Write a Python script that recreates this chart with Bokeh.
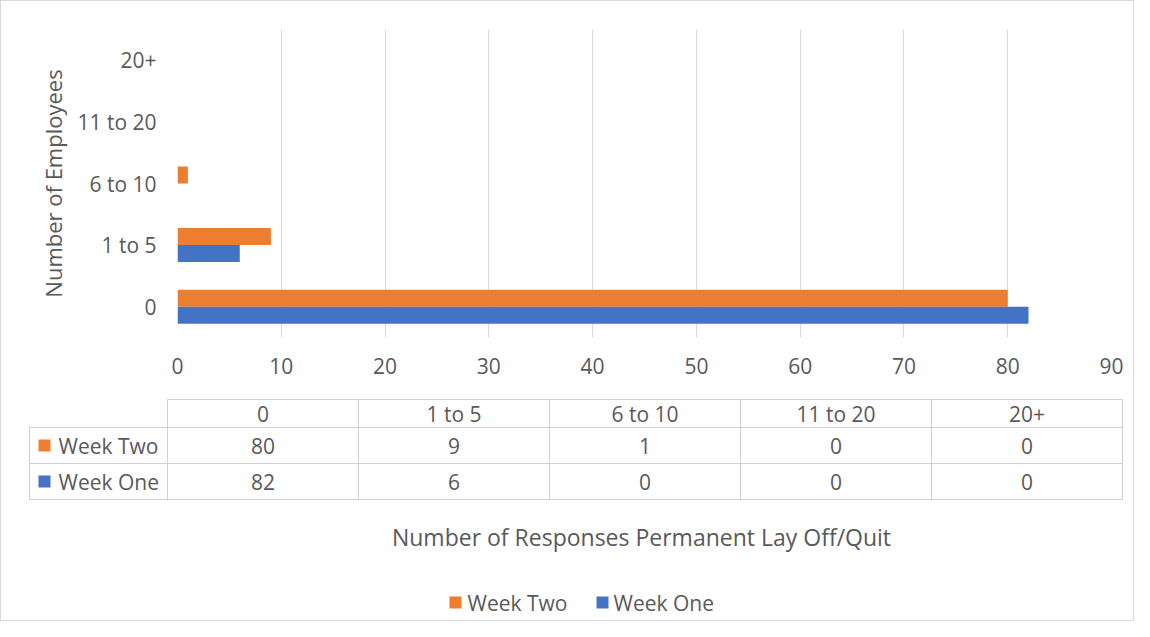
from bokeh.plotting import figure
from bokeh.models import FactorRange, Range1d, FixedTicker, ColumnDataSource
from bokeh.transform import dodge
from bokeh.layouts import column
from bokeh.embed import file_html
from bokeh.resources import INLINE
from bokeh.core.properties import value

# ---- data ----
categories = ["0", "1 to 5", "6 to 10", "11 to 20", "20+"]
week_two = [80, 9, 1, 0, 0]
week_one = [82, 6, 0, 0, 0]
series_names = ["Week Two", "Week One"]
series_colors = ["#ED7D31", "#4472C4"]
x_ticks = [0, 10, 20, 30, 40, 50, 60, 70, 80, 90]
x_title = "Number of Responses Permanent Lay Off/Quit"
y_title = "Number of Employees"

FONT = "Open Sans"
FS = "21px"
TXT = "#595959"
GRID = "#D9D9D9"

W = 1132
H1 = 386
H2 = 233

src = ColumnDataSource(dict(cat=categories, two=week_two, one=week_one))

p1 = figure(width=W, height=H1, y_range=FactorRange(*categories), x_range=Range1d(0, 90),
            output_backend="svg", toolbar_location=None,
            min_border_left=176, min_border_right=22, min_border_top=28, min_border_bottom=50)
p1.frame_align = False
p1.outline_line_color = None
p1.hbar(y=dodge("cat", 0.138, range=p1.y_range), right="two", left=0, height=0.276,
        source=src, color=series_colors[0], line_color=None)
p1.hbar(y=dodge("cat", -0.138, range=p1.y_range), right="one", left=0, height=0.276,
        source=src, color=series_colors[1], line_color=None)

p1.xaxis.ticker = FixedTicker(ticks=x_ticks)
for ax in (p1.xaxis, p1.yaxis):
    ax.axis_line_color = None
    ax.major_tick_line_color = None
    ax.minor_tick_line_color = None
    ax.major_label_text_font = FONT
    ax.major_label_text_font_size = FS
    ax.major_label_text_color = TXT
p1.xaxis.major_label_standoff = 14
p1.yaxis.major_label_standoff = 15
p1.yaxis.axis_label = y_title
p1.yaxis.axis_label_text_font = FONT
p1.yaxis.axis_label_text_font_size = "22px"
p1.yaxis.axis_label_text_font_style = "normal"
p1.yaxis.axis_label_text_color = TXT
p1.yaxis.axis_label_standoff = 6
p1.xgrid.grid_line_color = GRID
p1.ygrid.grid_line_color = None

# ---- data table + title + legend ----
p2 = figure(width=W, height=H2, x_range=Range1d(0, W), y_range=Range1d(H2, 0),
            x_axis_type=None, y_axis_type=None, output_backend="svg", toolbar_location=None,
            min_border=0)
p2.frame_align = False
p2.outline_line_color = None
p2.xgrid.visible = False
p2.ygrid.visible = False

tab_left, lab_left = 166, 28
col_w = 191
row_y = [12, 40, 76, 112]
ncol = len(categories)
col_edges = [tab_left + i * col_w for i in range(ncol + 1)]
tab_right = col_edges[-1]

hx0 = [tab_left, lab_left, lab_left, lab_left]
hx1 = [tab_right] * 4
p2.segment(x0=hx0, y0=row_y, x1=hx1, y1=row_y, line_color="#D0D0D0", line_width=1)
vx = [lab_left] + col_edges
vy0 = [row_y[1]] + [row_y[0]] * len(col_edges)
vy1 = [row_y[-1]] * len(vx)
p2.segment(x0=vx, y0=vy0, x1=vx, y1=vy1, line_color="#D0D0D0", line_width=1)

centers = [tab_left + col_w * (i + 0.5) for i in range(ncol)]
hdr_y = (row_y[0] + row_y[1]) / 2
r1_y = (row_y[1] + row_y[2]) / 2
r2_y = (row_y[2] + row_y[3]) / 2
tk = dict(text_font=value(FONT), text_font_size=FS, text_color=TXT, text_baseline="middle")
p2.text(x=centers, y=[hdr_y] * ncol, text=categories, text_align="center", **tk)
p2.text(x=centers, y=[r1_y] * ncol, text=[str(v) for v in week_two], text_align="center", **tk)
p2.text(x=centers, y=[r2_y] * ncol, text=[str(v) for v in week_one], text_align="center", **tk)

p2.rect(x=[43, 43], y=[r1_y, r2_y], width=12, height=12, color=series_colors, line_color=None)
p2.text(x=[57, 57], y=[r1_y, r2_y], text=series_names, text_align="left", **tk)

tk_title = dict(tk, text_font_size="23px")
p2.text(x=[640], y=[149], text=[x_title], text_align="center", **tk_title)

leg_y = 215
p2.rect(x=[454, 601], y=[leg_y, leg_y], width=12, height=12, color=series_colors, line_color=None)
p2.text(x=[466, 612], y=[leg_y, leg_y], text=series_names, text_align="left", **tk)

layout = column(p1, p2, styles={"border": "1px solid #D9D9D9"})

open("out.html", "w").write(file_html(layout, INLINE))
